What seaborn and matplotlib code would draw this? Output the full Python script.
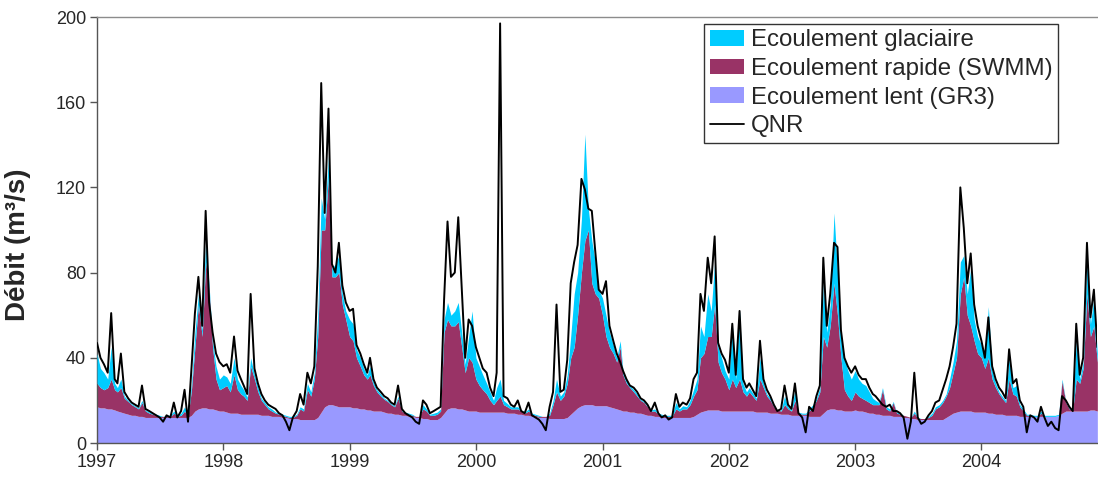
import numpy as np
import pandas as pd
import matplotlib
matplotlib.use("Agg")
import matplotlib.pyplot as plt
from matplotlib.patches import Patch
from matplotlib.lines import Line2D
import seaborn as sns

# ---------------- data (dekads: 1st, 11th, 21st of each month) ----------------
years = list(range(1997, 2005))
year_labels = [str(y) for y in years]
series_labels = ["Ecoulement glaciaire", "Ecoulement rapide (SWMM)",
                 "Ecoulement lent (GR3)", "QNR"]

qnr = [
    47, 40, 37, 33, 61, 30, 28, 42, 24, 21, 19, 18, 17, 27, 16, 15, 14, 13, 12, 10, 13, 12, 19, 12, 15, 25, 10, 35, 61, 78, 55, 109, 66, 52, 42, 38,
    36, 37, 33, 50, 34, 30, 27, 23, 70, 35, 28, 23, 20, 18, 17, 16, 14, 13, 10, 6, 12, 15, 23, 18, 33, 28, 36, 83, 169, 108, 157, 84, 80, 94, 74, 66,
    62, 63, 46, 42, 37, 33, 40, 30, 26, 24, 22, 21, 19, 18, 27, 16, 14, 13, 12, 10, 9, 20, 18, 14, 15, 16, 17, 67, 104, 78, 80, 106, 73, 40, 58, 55,
    45, 40, 35, 33, 26, 22, 33, 197, 22, 21, 18, 17, 20, 15, 14, 19, 13, 12, 11, 9, 6, 17, 24, 65, 24, 25, 39, 75, 85, 93, 124, 119, 110, 109, 90, 72,
    70, 76, 55, 48, 42, 38, 34, 30, 27, 26, 24, 21, 20, 18, 15, 19, 14, 12, 13, 11, 12, 23, 17, 19, 18, 21, 30, 33, 70, 62, 87, 75, 97, 47, 42, 39,
    33, 56, 32, 62, 30, 26, 28, 25, 22, 48, 30, 25, 22, 18, 15, 16, 27, 18, 16, 28, 14, 12, 5, 17, 15, 22, 27, 87, 55, 70, 94, 92, 53, 40, 36, 33,
    36, 32, 30, 30, 26, 23, 22, 20, 18, 17, 18, 15, 15, 14, 12, 2, 10, 33, 12, 9, 10, 13, 15, 19, 20, 25, 30, 36, 45, 56, 120, 101, 75, 89, 65, 55,
    48, 40, 59, 36, 30, 26, 24, 21, 44, 28, 30, 20, 17, 5, 13, 12, 10, 17, 12, 8, 10, 7, 6, 22, 20, 17, 15, 56, 32, 40, 94, 59, 72, 45,
]

lent = [
    17, 16.5, 16.5, 16, 16, 15.5, 15, 14.5, 14, 13.5, 13, 13, 12.5, 12.5, 12, 12, 12, 12, 12, 12, 12, 12, 12, 12, 12, 12, 12, 13, 15, 16, 16.5, 16.5, 16, 16, 15.5, 15,
    15, 14.5, 14, 14, 14, 13.5, 13.5, 13.5, 13.5, 13.5, 13.5, 13, 13, 13, 12.5, 12.5, 12.5, 12, 12, 11.5, 11.5, 11.5, 11, 11, 11, 11, 11, 12, 14.5, 17, 18, 18, 17.5, 17, 17, 17,
    17, 16.5, 16.5, 16, 16, 15.5, 15.5, 15, 15, 15, 14.5, 14, 14, 13.5, 13.5, 13, 13, 12.5, 12.5, 12, 12, 11.5, 11.5, 11, 11, 11, 12, 14, 16, 16.5, 16.5, 16, 16, 15.5, 15, 15,
    15, 14.5, 14.5, 14.5, 14.5, 14.5, 14.5, 14.5, 14.5, 14, 14, 14, 13.5, 13.5, 13, 13, 12.5, 12.5, 12, 12, 12, 11.5, 11.5, 11.5, 11.5, 11.5, 12, 13.5, 15, 16.5, 17.5, 18, 18, 18, 17.5, 17.5,
    17.5, 17.5, 17, 16.5, 16, 15.5, 15, 15, 14.5, 14.5, 14, 14, 13.5, 13, 13, 12.5, 12.5, 12, 12, 12, 12, 12, 12, 12, 12, 12, 12.5, 13.5, 14.5, 15, 15.5, 15.5, 15.5, 15.5, 15, 15,
    15, 15, 15, 15, 15, 15, 15, 15, 14.5, 14.5, 14.5, 14.5, 14, 14, 14, 13.5, 13.5, 13.5, 13, 13, 13, 13, 13, 12.5, 12.5, 12.5, 12.5, 14, 15.5, 16, 16, 15.5, 15.5, 15, 15, 15,
    15.5, 15, 15, 14.5, 14, 14, 13.5, 13.5, 13, 13, 13, 12.5, 12.5, 12.5, 12, 12, 11.5, 11.5, 11, 11, 11, 11, 11, 11, 11, 11, 12, 13, 14, 14.5, 15, 15, 15, 15, 14.5, 14.5,
    14.5, 14.5, 14, 14, 13.5, 13.5, 13.5, 13, 13, 13, 13, 12.5, 12.5, 12.5, 12.5, 12.5, 12.5, 12.5, 12.5, 12.5, 12.5, 12.5, 13, 14, 15, 15, 15, 15, 15, 15, 15, 15.5, 15.5, 15,
]

# upper edge of the "rapide" layer (lent + rapide)
rapide_top = [
    28, 26, 25, 26, 30, 25, 24, 26, 21, 19.5, 18, 17, 16, 19, 15, 14, 13.5, 13, 12.5, 12.5, 12.5, 12.5, 14, 12.5, 13, 15, 12.5, 25, 45, 65, 50, 85, 72, 45, 30, 25,
    26, 27, 24, 32, 25, 23, 22, 20, 36, 30, 24, 20, 18, 16, 15, 14, 13.5, 13, 12.5, 12, 12, 13, 16, 15, 25, 22, 30, 50, 100, 100, 125, 78, 78, 80, 65, 58,
    50, 48, 40, 36, 32, 30, 32, 27, 24, 22, 20.5, 19.5, 18, 17, 21, 15, 14, 13.5, 13, 12.5, 12.5, 16, 15, 13, 13, 13.5, 15, 52, 58, 55, 55, 57, 45, 33, 40, 38,
    30, 27, 25, 23, 20, 18, 20, 22, 18, 17, 16, 16, 16, 15, 14, 15, 13.5, 13, 12.5, 12.5, 12.5, 13, 18, 24, 20, 22, 28, 40, 45, 60, 80, 95, 100, 75, 70, 68,
    60, 50, 45, 42, 38, 45, 32, 28, 26, 24, 22, 20, 19, 17, 15, 15, 13.5, 13, 12.5, 12.5, 12.5, 16, 15, 16, 16, 18, 22, 25, 40, 42, 50, 50, 65, 38, 33, 30,
    25, 30, 26, 30, 24, 22, 24, 22, 20, 30, 26, 22, 20, 17, 15.5, 15, 18, 16, 15, 20, 14, 13.5, 13.5, 15, 17, 20, 24, 50, 45, 55, 75, 60, 40, 25, 22, 20,
    24, 22, 21, 20, 19, 18, 18, 18, 25, 16, 15, 19, 14, 13.5, 13, 12.5, 12, 14, 11.5, 11.5, 11.5, 12, 13, 16, 17, 19, 22, 26, 33, 40, 70, 78, 60, 55, 48, 42,
    40, 35, 40, 30, 26, 23, 21, 19, 30, 23, 22, 17, 15, 13, 13, 12.5, 12.5, 14, 12.5, 12.5, 12.5, 12.5, 13, 29, 19, 16, 15.5, 30, 28, 35, 70, 50, 55, 38,
]

# upper edge of the "glaciaire" layer (total of the three components)
glaciaire_top = [
    42, 35, 33, 30, 45, 28, 26, 30, 22, 20, 18.5, 17.5, 16.5, 20, 15.5, 14.5, 14, 13.5, 13, 12.5, 13, 13, 15, 13, 14, 17, 13, 28, 52, 70, 53, 95, 74, 48, 36, 30,
    32, 31, 28, 40, 30, 27, 25, 21.5, 40, 32, 26, 21, 19, 17, 16, 14.5, 14, 13.5, 13, 12.5, 12.5, 13.5, 17, 16, 28, 24, 33, 60, 115, 105, 135, 82, 84, 88, 70, 62,
    58, 56, 44, 40, 35, 32, 36, 28.5, 25, 23, 21, 20, 18.5, 17.5, 22, 15.5, 14.5, 14, 13.5, 12.5, 12.5, 18, 16, 13.5, 14, 14.5, 16, 58, 66, 60, 62, 66, 52, 37, 50, 62,
    40, 36, 32, 28, 24, 20, 26, 30, 20, 18.5, 17, 17, 17, 15.5, 14.5, 16, 14, 13.5, 13, 12.5, 12.5, 14, 20, 30, 22, 24, 32, 50, 70, 80, 105, 145, 110, 95, 85, 72,
    68, 60, 52, 46, 40, 48, 34, 29.5, 27, 25, 23, 20.5, 19.5, 17.5, 15.5, 16, 14, 13.5, 13, 13, 13, 19, 16, 17.5, 17, 20, 25, 30, 55, 50, 70, 62, 85, 45, 40, 34,
    30, 56, 30, 62, 28, 24, 26, 23.5, 21, 40, 28, 23, 21, 17.5, 15.5, 15.5, 22, 17, 15.5, 25, 14.5, 14, 14, 16, 18, 21, 26, 75, 52, 65, 108, 80, 50, 40, 34, 30,
    34, 30, 28, 27, 24, 21, 20, 19, 26, 17, 16, 19.5, 14.5, 14, 13, 12.5, 12, 15, 12, 11.5, 11.5, 12.5, 14, 17, 18, 20, 23, 30, 38, 48, 85, 88, 70, 82, 58, 50,
    46, 40, 64, 34, 28, 24, 22, 20, 40, 26, 27, 18, 16, 13.5, 13.5, 13, 13, 15, 13, 13, 13, 13, 13.5, 30, 19.5, 16.5, 16, 48, 30, 38, 85, 56, 68, 42,
]

# ---------------- build table ----------------
all_dates = [pd.Timestamp(y, m, d) for y in years for m in range(1, 13) for d in (1, 11, 21)]
n = len(qnr)
for name, arr in [("lent", lent), ("rapide_top", rapide_top), ("glaciaire_top", glaciaire_top)]:
    if len(arr) != n:
        raise ValueError(f"{name}: {len(arr)} values, expected {n}")
df = pd.DataFrame({
    "date": all_dates[:n],
    "QNR": qnr,
    "lent": lent,
    "rapide_top": np.maximum(rapide_top, lent),
})
df["glaciaire_top"] = np.maximum(glaciaire_top, df["rapide_top"])

# ---------------- style ----------------
sns.set_style("white")
plt.rcParams["font.family"] = ["Liberation Sans", "DejaVu Sans"]

c_glac = "#00CCFF"
c_rap = "#993366"
c_lent = "#9999FF"

fig = plt.figure(figsize=(10.98, 4.84), dpi=100)
ax = fig.add_axes([97 / 1098, 41 / 484, 1000 / 1098, 426 / 484])

ax.fill_between(df["date"], 0, df["lent"], color=c_lent, lw=0, zorder=1)
ax.fill_between(df["date"], df["lent"], df["rapide_top"], color=c_rap, lw=0, zorder=2)
ax.fill_between(df["date"], df["rapide_top"], df["glaciaire_top"], color=c_glac, lw=0, zorder=3)
sns.lineplot(data=df, x="date", y="QNR", ax=ax, color="black", lw=1.4, zorder=4)

x0 = pd.Timestamp(1997, 1, 1)
ax.set_xlim(x0, x0 + pd.Timedelta(days=2890))
ax.set_ylim(0, 200)
ax.set_yticks(np.arange(0, 201, 40))
ax.set_xticks([pd.Timestamp(y, 1, 1) for y in years])
ax.set_xticklabels(year_labels)
ax.set_xlabel("")
ax.set_ylabel("Débit (m³/s)", fontsize=20, fontweight="bold")
ax.yaxis.set_label_coords(-0.066, 0.465)

ax.tick_params(axis="both", direction="out", length=5, width=1, color="#555555",
               labelsize=13, pad=3, left=True, bottom=True)
for side in ["left", "bottom"]:
    ax.spines[side].set_color("#555555")
    ax.spines[side].set_linewidth(1.0)
ax.spines["top"].set_color("#8c8c8c")
ax.spines["top"].set_linewidth(1.0)
ax.spines["right"].set_visible(False)

handles = [Patch(facecolor=c_glac, edgecolor="none"),
           Patch(facecolor=c_rap, edgecolor="none"),
           Patch(facecolor=c_lent, edgecolor="none"),
           Line2D([], [], color="black", lw=1.3)]
leg = ax.legend(handles, series_labels, loc="upper right",
                bbox_to_anchor=(0.961, 0.9836), fontsize=17.3, frameon=True,
                fancybox=False, edgecolor="#333333", framealpha=1,
                borderpad=0.22, handlelength=1.42, handleheight=0.62,
                handletextpad=0.3, labelspacing=0.28, borderaxespad=0)
leg.get_frame().set_linewidth(1.0)

fig.savefig("out.png", dpi=100)
